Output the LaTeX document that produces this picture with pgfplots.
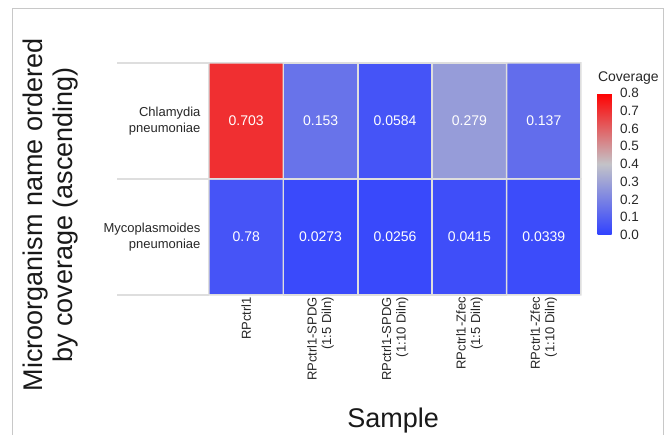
\documentclass[border=0pt]{standalone}
\usepackage{fontspec}
\setmainfont{Liberation Sans}
\usepackage{pgfplots}
\pgfplotsset{compat=1.18}
\definecolor{gridc}{RGB}{222,222,222}
\definecolor{framec}{RGB}{200,200,200}
\definecolor{txt}{RGB}{40,40,40}
\begin{document}
\begin{tikzpicture}[x=1pt,y=1pt]
\useasboundingbox (0,0) rectangle (670,435);
\fill[white] (0,0) rectangle (670,435);
\draw[framec, line width=1pt] (12,0) -- (12,426) -- (663,426) -- (663,0);
\begin{axis}[
  at={(209pt,140pt)}, anchor=south west,
  scale only axis, width=372pt, height=232pt,
  xmin=-0.5, xmax=4.5, ymin=-0.5, ymax=1.5,
  axis line style={draw=none},
  major tick length=0pt,
  clip=false,
  xtick={0,1,2,3,4},
  xticklabels={RPctrl1,{RPctrl1-SPDG\\(1:5 Diln)},{RPctrl1-SPDG\\(1:10 Diln)},{RPctrl1-Zfec\\(1:5 Diln)},{RPctrl1-Zfec\\(1:10 Diln)}},
  xticklabel style={rotate=90, anchor=east, align=right, font=\fontsize{13}{14.5}\selectfont, text=txt, inner sep=2pt},
  ytick={0,1},
  yticklabels={{Mycoplasmoides\\pneumoniae},{Chlamydia\\pneumoniae}},
  yticklabel style={align=right, font=\fontsize{13}{15.5}\selectfont, text=txt, xshift=-5pt},
  xlabel={Sample},
  xlabel style={at={(axis description cs:0.495,-0.539)}, anchor=center, font=\fontsize{27}{30}\selectfont, text=black!90},
  ylabel={Microorganism name ordered\\by coverage (ascending)},
  ylabel style={at={(axis description cs:-0.427,0.345)}, anchor=center, align=center, font=\fontsize{27}{30}\selectfont, text=black!90},
  colormap={cov}{rgb255(0)=(48,65,255); rgb255(1)=(195,195,200); rgb255(2)=(255,0,0)},
  point meta min=0, point meta max=0.8,
  colorbar,
  colorbar style={
    at={(parent axis.north east)}, anchor=north west,
    xshift=8pt, yshift=-30pt,
    scale only axis, width=14pt, height=142pt,
    ytick={0,0.1,0.2,0.3,0.4,0.5,0.6,0.7,0.8},
    yticklabel style={font=\fontsize{13.5}{15}\selectfont, text=txt, xshift=5pt,
      /pgf/number format/fixed, /pgf/number format/fixed zerofill, /pgf/number format/precision=1, /pgf/number format/assume math mode=true},
    axis line style={draw=none},
    major tick length=0pt,
    title={Coverage},
    title style={at={(0,1)}, anchor=south west, xshift=-3pt, yshift=-1pt, font=\fontsize{14}{16}\selectfont, text=txt},
  },
]
\addplot[matrix plot*, shader=faceted, faceted color=gridc, line width=1.5pt, point meta=explicit, mesh/cols=5] table[meta=c] {
x y c
0 0 0.06
1 0 0.0273
2 0 0.0256
3 0 0.0415
4 0 0.0339
0 1 0.703
1 1 0.153
2 1 0.0584
3 1 0.279
4 1 0.137
};
\addplot[only marks, mark=none, point meta=explicit symbolic, nodes near coords,
  nodes near coords style={anchor=center, text=white, font=\fontsize{14}{16}\selectfont}] table[meta=l] {
x y l
0 0 0.78
1 0 0.0273
2 0 0.0256
3 0 0.0415
4 0 0.0339
0 1 0.703
1 1 0.153
2 1 0.0584
3 1 0.279
4 1 0.137
};
\draw[gridc, line width=1.2pt] (axis cs:-0.5,-0.5) -- ([xshift=-92pt]axis cs:-0.5,-0.5);
\draw[gridc, line width=1.2pt] (axis cs:-0.5,0.5) -- ([xshift=-92pt]axis cs:-0.5,0.5);
\draw[gridc, line width=1.2pt] (axis cs:-0.5,1.5) -- ([xshift=-92pt]axis cs:-0.5,1.5);
\end{axis}
\end{tikzpicture}
\end{document}
